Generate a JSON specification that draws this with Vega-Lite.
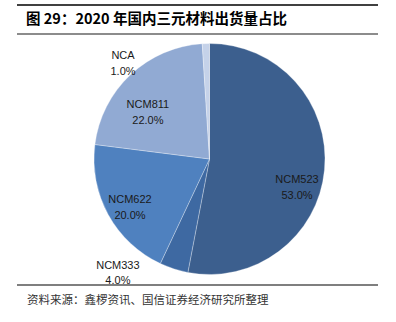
{
  "$schema": "https://vega.github.io/schema/vega-lite/v6.json",
  "width": 361,
  "height": 322,
  "padding": {"left": 17, "right": 18, "top": 0, "bottom": 0},
  "autosize": {"type": "none"},
  "background": "white",
  "config": {"view": {"stroke": null}, "text": {"font": "Liberation Sans"}},
  "resolve": {"scale": {"y": "independent", "color": "independent"}},
  "layer": [
    {
      "data": {"values": [
        {"material": "NCM523", "share": 53.0},
        {"material": "NCM333", "share": 4.0},
        {"material": "NCM622", "share": 20.0},
        {"material": "NCM811", "share": 22.0},
        {"material": "NCA", "share": 1.0}
      ]},
      "transform": [
        {"window": [{"op": "row_number", "as": "idx"}]},
        {"stack": "share", "groupby": [], "sort": [{"field": "idx", "order": "ascending"}], "as": ["s0", "s1"]},
        {"calculate": "(datum.s0 + datum.s1) / 2", "as": "mid"},
        {"calculate": "[datum.material, format(datum.share, '.1f') + '%']", "as": "label"}
      ],
      "layer": [
        {
          "mark": {"type": "arc", "outerRadius": 115.5, "xOffset": 12, "yOffset": -2, "stroke": "#ffffff", "strokeWidth": 0.6, "strokeOpacity": 0.5},
          "encoding": {
            "theta": {"field": "s0", "type": "quantitative", "scale": {"domain": [0, 100]}},
            "theta2": {"field": "s1"},
            "color": {"field": "material", "type": "nominal", "legend": null,
              "scale": {"domain": ["NCM523", "NCM333", "NCM622", "NCM811", "NCA"],
                        "range": ["#3c5f8e", "#3e69a2", "#4f81bf", "#91aad3", "#c5d2e9"]}}
          }
        },
        {
          "transform": [{"filter": "datum.material == 'NCM523'"}],
          "mark": {"type": "text", "radius": 90, "thetaOffset": 0.141, "xOffset": 12, "yOffset": -2, "fontSize": 11, "lineHeight": 16, "color": "#1a1a1a"},
          "encoding": {"theta": {"field": "mid", "type": "quantitative", "scale": {"domain": [0, 100]}}, "text": {"field": "label"}}
        },
        {
          "transform": [{"filter": "datum.material == 'NCM622'"}],
          "mark": {"type": "text", "radius": 89.5, "thetaOffset": 0.026, "xOffset": 12, "yOffset": -2, "fontSize": 11, "lineHeight": 16, "color": "#1a1a1a"},
          "encoding": {"theta": {"field": "mid", "type": "quantitative", "scale": {"domain": [0, 100]}}, "text": {"field": "label"}}
        },
        {
          "transform": [{"filter": "datum.material == 'NCM811'"}],
          "mark": {"type": "text", "radius": 82, "thetaOffset": -0.096, "xOffset": 12, "yOffset": -2, "fontSize": 11, "lineHeight": 16, "color": "#1a1a1a"},
          "encoding": {"theta": {"field": "mid", "type": "quantitative", "scale": {"domain": [0, 100]}}, "text": {"field": "label"}}
        },
        {
          "transform": [{"filter": "datum.material == 'NCA'"}],
          "mark": {"type": "text", "radius": 134.5, "thetaOffset": -0.667, "xOffset": 12, "yOffset": -2, "fontSize": 11, "lineHeight": 16, "color": "#1a1a1a"},
          "encoding": {"theta": {"field": "mid", "type": "quantitative", "scale": {"domain": [0, 100]}}, "text": {"field": "label"}}
        },
        {
          "transform": [{"filter": "datum.material == 'NCM333'"}],
          "mark": {"type": "text", "radius": 141, "thetaOffset": 0.393, "xOffset": 12, "yOffset": -2, "fontSize": 11, "lineHeight": 15, "color": "#1a1a1a"},
          "encoding": {"theta": {"field": "mid", "type": "quantitative", "scale": {"domain": [0, 100]}}, "text": {"field": "label"}}
        }
      ]
    },
    {
      "data": {"values": [{"rule": "top"}]},
      "mark": {"type": "rule", "stroke": "#000000", "strokeWidth": 1.5},
      "encoding": {
        "y": {"field": "rule", "type": "nominal", "axis": null, "scale": {"type": "point", "domain": ["top"], "range": [5, 6], "padding": 0, "align": 0}},
        "color": {"field": "rule", "type": "nominal", "legend": null, "scale": {"domain": ["top"], "range": ["#000000"]}}
      }
    },
    {
      "data": {"values": [{"rule": "under title"}]},
      "mark": {"type": "rule", "stroke": "#8c8c8c", "strokeWidth": 2},
      "encoding": {
        "y": {"field": "rule", "type": "nominal", "axis": null, "scale": {"type": "point", "domain": ["under title"], "range": [34, 35], "padding": 0, "align": 0}},
        "color": {"field": "rule", "type": "nominal", "legend": null, "scale": {"domain": ["under title"], "range": ["#8c8c8c"]}}
      }
    },
    {
      "data": {"values": [{"rule": "above source"}]},
      "mark": {"type": "rule", "stroke": "#555555", "strokeWidth": 1.5},
      "encoding": {
        "y": {"field": "rule", "type": "nominal", "axis": null, "scale": {"type": "point", "domain": ["above source"], "range": [285, 286], "padding": 0, "align": 0}},
        "color": {"field": "rule", "type": "nominal", "legend": null, "scale": {"domain": ["above source"], "range": ["#555555"]}}
      }
    },
    {
      "data": {"values": [{"text": "图 29：2020 年国内三元材料出货量占比"}]},
      "mark": {"type": "text", "align": "left", "baseline": "middle", "font": "Noto Sans CJK SC", "fontSize": 14.5, "fontWeight": "bold", "color": "#000000"},
      "encoding": {"x": {"value": 9}, "y": {"value": 20}, "text": {"field": "text"}}
    },
    {
      "data": {"values": [{"text": "资料来源：鑫椤资讯、国信证券经济研究所整理"}]},
      "mark": {"type": "text", "align": "left", "baseline": "middle", "font": "Noto Sans CJK SC", "fontSize": 11.5, "color": "#333333"},
      "encoding": {"x": {"value": 10}, "y": {"value": 301}, "text": {"field": "text"}}
    }
  ]
}
